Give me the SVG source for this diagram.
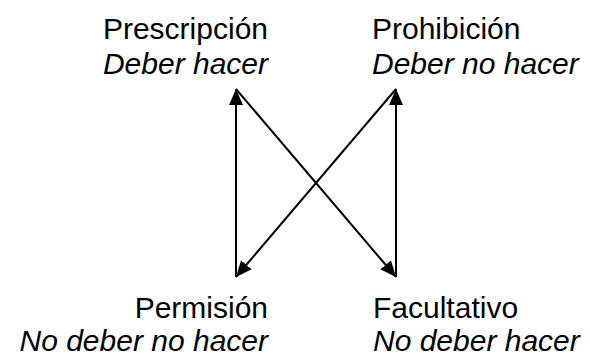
<svg xmlns="http://www.w3.org/2000/svg" width="590" height="358" viewBox="0 0 590 358">
<style>
text{font-family:"Liberation Sans",Arial,sans-serif;font-size:30px;fill:#000}
.i{font-style:italic}
.c line{stroke:#000;stroke-width:2;fill:none}
</style>
<defs>
<marker id="a" viewBox="0 0 16 14" refX="16" refY="7" markerWidth="16" markerHeight="14" markerUnits="userSpaceOnUse" orient="auto">
<path d="M0,0 L16,7 L0,14 Z" fill="#000"/>
</marker>
</defs>
<rect width="590" height="358" fill="#fff"/>
<g id="prescripcion"><text x="268" y="39" text-anchor="end">Prescripción</text><text class="i" x="268" y="74" text-anchor="end">Deber hacer</text></g>
<g id="prohibicion"><text x="372" y="39">Prohibición</text><text class="i" x="372" y="74">Deber no hacer</text></g>
<g id="permision"><text x="268" y="318" text-anchor="end">Permisión</text><text class="i" x="268" y="351" text-anchor="end">No deber no hacer</text></g>
<g id="facultativo"><text x="373" y="318">Facultativo</text><text class="i" x="373" y="351">No deber hacer</text></g>
<g class="c" id="connectors">
<line x1="236" y1="277" x2="236" y2="89" marker-end="url(#a)"/>
<line x1="396" y1="277" x2="396" y2="89" marker-end="url(#a)"/>
<line x1="236" y1="89" x2="396" y2="277" marker-end="url(#a)"/>
<line x1="396" y1="89" x2="236" y2="277" marker-end="url(#a)"/>
</g>
</svg>
